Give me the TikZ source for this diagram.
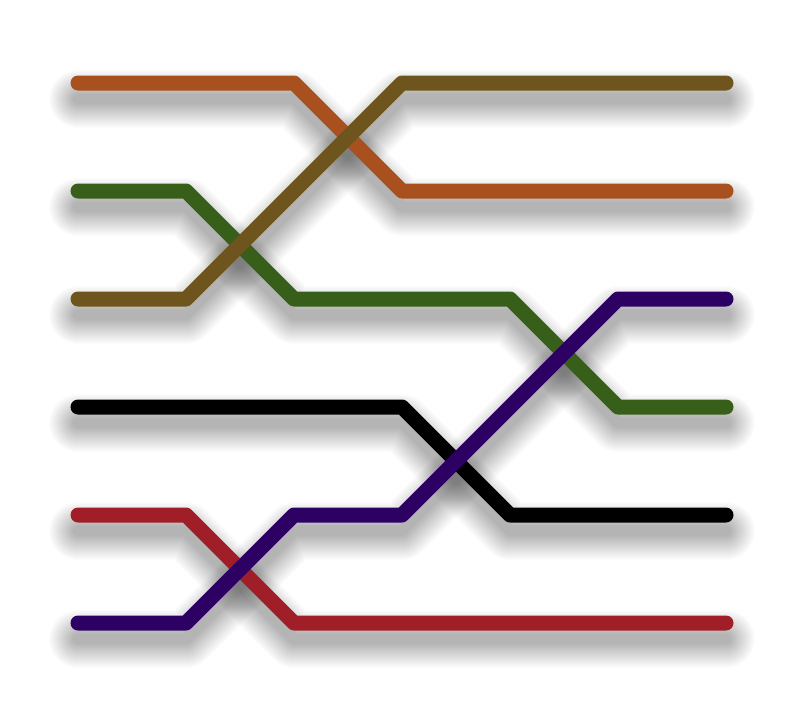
\documentclass[tikz,border=0pt]{standalone}
\definecolor{cOrange}{RGB}{168,80,30}
\definecolor{cOlive}{RGB}{110,85,30}
\definecolor{cGreen}{RGB}{55,95,25}
\definecolor{cPurple}{RGB}{45,0,100}
\definecolor{cBlack}{RGB}{0,0,0}
\definecolor{cRed}{RGB}{160,30,40}
\newcommand\allwires[1]{%
  \draw[cOrange,#1] (78,83) -- (294,83) -- (402,191) -- (726,191);
  \draw[cGreen,#1] (78,191) -- (186,191) -- (294,299) -- (510,299) -- (618,407) -- (726,407);
  \draw[cBlack,#1] (78,407) -- (402,407) -- (510,515) -- (726,515);
  \draw[cRed,#1] (78,515) -- (186,515) -- (294,623) -- (726,623);
  \draw[cOlive,#1] (78,299) -- (186,299) -- (402,83) -- (726,83);
  \draw[cPurple,#1] (78,623) -- (186,623) -- (294,515) -- (402,515) -- (618,299) -- (726,299);
}
\begin{document}
\begin{tikzpicture}[x=1pt,y=-1pt,
  wire/.style={line width=15pt,line cap=round,line join=round}]
\useasboundingbox[fill=white] (0,0) rectangle (800,716);
\foreach \w in {58,56,...,10}{
  \allwires{wire,line width=\w pt,black,draw opacity=0.011,shift={(0,16)}}
}
\allwires{wire}
\end{tikzpicture}
\end{document}
